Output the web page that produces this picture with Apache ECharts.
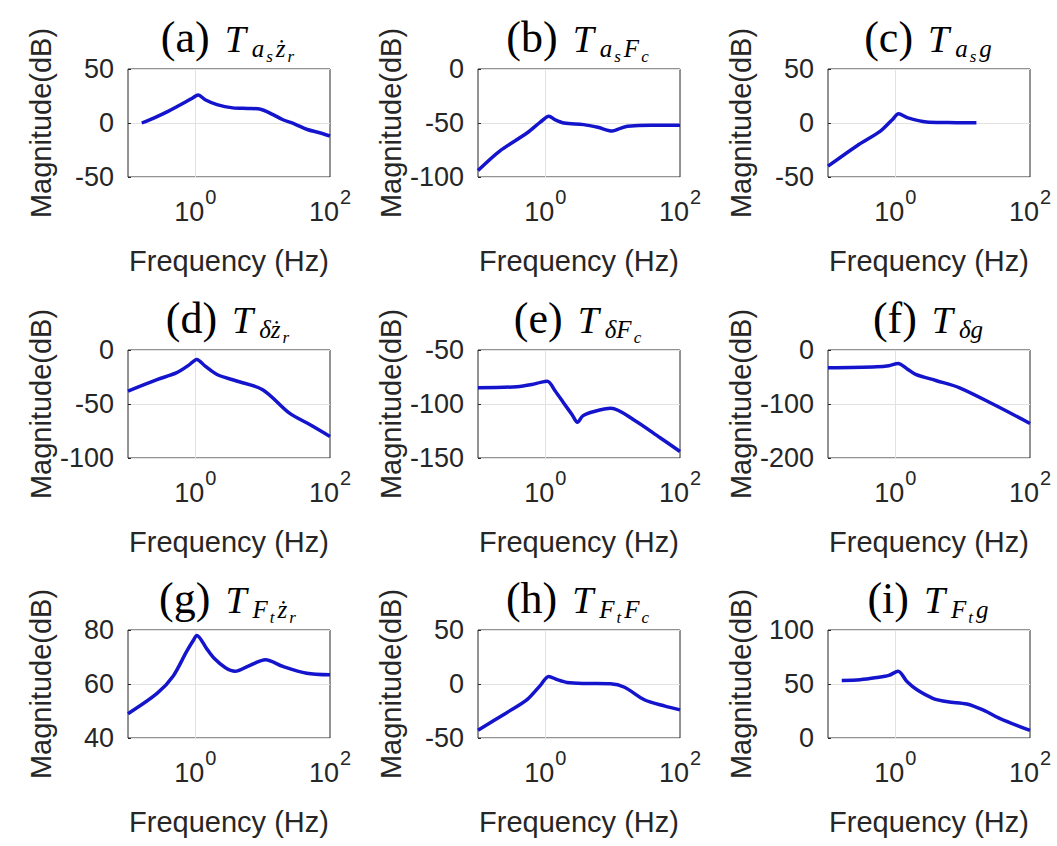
<!DOCTYPE html>
<html>
<head>
<meta charset="utf-8">
<script src="https://cdn.jsdelivr.net/npm/echarts@6/dist/echarts.min.js"></script>
<style>
html,body{margin:0;padding:0;background:#fff;}
#chart{width:1057px;height:846px;}
</style>
</head>
<body>
<div id="chart"></div>
<script>
// ---- data (frequency in Hz, magnitude in dB) ----
const freqA = [0.16, 0.25, 0.4, 0.65, 0.9, 1.1, 1.4, 2.1, 3.6, 6, 9, 14, 20, 30, 46, 70, 100];
const magA  = [0, 5, 11, 18, 23, 26, 21.5, 17, 14, 13.5, 13, 8, 3, -1, -6, -9, -12];

const freqB = [0.1, 0.21, 0.54, 0.85, 1.13, 1.4, 1.9, 3.7, 6, 9.8, 13, 16.6, 37, 100];
const magB  = [-94, -76, -59, -49, -43.7, -47, -50, -51.5, -54, -57.5, -55, -53, -52, -52];

const freqC = [0.1, 0.27, 0.6, 0.9, 1.12, 1.5, 2.9, 6, 10, 16];
const magC  = [-40, -21, -7.5, 3, 8.5, 5, 1, 0.5, 0.3, 0.3];

const freqD = [0.1, 0.27, 0.53, 0.8, 1.05, 1.4, 2.1, 4, 10, 25, 50, 100];
const magD  = [-38, -27.4, -21, -14, -8.7, -15, -22.7, -28.5, -36.7, -58.5, -69, -80];

const freqE = [0.1, 0.38, 0.63, 0.85, 1.07, 1.4, 1.87, 2.5, 3.0, 3.6, 5.3, 9.4, 21, 50, 100];
const magE  = [-85, -84, -82, -80, -79, -88, -99, -110, -117, -111, -107, -104, -115, -131, -144];

const freqF = [0.1, 0.53, 0.8, 1.1, 1.5, 2.0, 4, 9, 29, 100];
const magF  = [-33, -31, -29, -25, -35, -45, -56.5, -70, -101, -136];

const freqG = [0.1, 0.27, 0.47, 0.74, 0.95, 1.05, 1.48, 1.9, 2.8, 3.9, 6, 11, 20, 45, 100];
const magG  = [49, 56.5, 63, 72, 76.5, 78, 73, 69.5, 66, 64.7, 66.5, 69, 66.5, 64, 63.4];

const freqH = [0.1, 0.26, 0.53, 0.85, 1.12, 1.5, 2.1, 4, 9.3, 15, 30, 60, 100];
const magH  = [-42.8, -27, -14.8, -1, 7, 4, 1.4, 0.5, 0.2, -3, -14.8, -20.5, -24];

const freqI = [0.16, 0.3, 0.53, 0.8, 1.1, 1.5, 2.1, 3.6, 6, 11.5, 20, 36, 100];
const magI  = [53.3, 54, 56, 58, 61.8, 52, 44.6, 36.8, 33.5, 31.5, 26, 18, 7];

const yMins      = [-50, -100, -50, -100, -150, -200, 40, -50, 0];
const yMaxs      = [50, 0, 50, 0, -50, 0, 80, 50, 100];
const yIntervals = [50, 50, 50, 50, 50, 100, 20, 50, 50];

const panelLetters = ['(a)', '(b)', '(c)', '(d)', '(e)', '(f)', '(g)', '(h)', '(i)'];
// subscript parts: [main subscript, sub-subscript] pairs
const panelSubs = [
  [['a', 's'], ['ż', 'r']],
  [['a', 's'], ['F', 'c']],
  [['a', 's'], ['g', '']],
  [['δż', 'r']],
  [['δF', 'c']],
  [['δg', '']],
  [['F', 't'], ['ż', 'r']],
  [['F', 't'], ['F', 'c']],
  [['F', 't'], ['g', '']]
];

const xTickLabels = {0: '{b|10}{s|0}', 2: '{b|10}{s|2}'};
const xName = 'Frequency (Hz)';
const yName = 'Magnitude(dB)';

const freqs = [freqA, freqB, freqC, freqD, freqE, freqF, freqG, freqH, freqI];
const mags  = [magA, magB, magC, magD, magE, magF, magG, magH, magI];

// ---- layout ----
const colLefts = [128, 478, 828];
const rowTops  = [69, 350, 630];
const gW = 202, gH = 108;
const sansFont = '"Liberation Sans", Arial, Helvetica, sans-serif';
const serifFont = '"Liberation Serif", "Times New Roman", serif';
const axisColor = '#262626';
const gridColor = '#e2e2e2';
const lineColor = '#1414cc';

const titleRich = {
  p:  {fontFamily: serifFont, fontSize: 44, lineHeight: 44, padding: [0, 15, 7, 0], verticalAlign: 'bottom', fill: '#000', color: '#000'},
  T:  {fontFamily: serifFont, fontStyle: 'italic', fontSize: 38, lineHeight: 38, padding: [0, 6, 8, 0], verticalAlign: 'bottom', fill: '#000', color: '#000'},
  s1: {fontFamily: serifFont, fontStyle: 'italic', fontSize: 25, lineHeight: 25, padding: [0, 2, 5, 0], verticalAlign: 'bottom', fill: '#000', color: '#000'},
  s2: {fontFamily: serifFont, fontStyle: 'italic', fontSize: 17, lineHeight: 17, padding: [0, 3, 1, 0], verticalAlign: 'bottom', fill: '#000', color: '#000'}
};

const grids = [], xAxes = [], yAxes = [], series = [], graphics = [];
for (let i = 0; i < 9; i++) {
  const r = Math.floor(i / 3), c = i % 3;
  const left = colLefts[c], top = rowTops[r];
  grids.push({left: left, top: top, width: gW, height: gH, show: true,
    borderColor: axisColor, borderWidth: 1, backgroundColor: 'transparent', containLabel: false});
  xAxes.push({
    type: 'log', logBase: 10, gridIndex: i, min: 0.1, max: 100,
    axisLine: {show: false}, axisTick: {show: false}, splitLine: {show: false},
    axisLabel: {
      showMinLabel: true, showMaxLabel: true, margin: 21, color: axisColor,
      formatter: function (v) {
        const e = Math.round(Math.log10(v));
        return xTickLabels[e] || '';
      },
      rich: {
        b: {fontFamily: sansFont, fontSize: 27, lineHeight: 27, verticalAlign: 'bottom', color: axisColor},
        s: {fontFamily: sansFont, fontSize: 20, lineHeight: 20, padding: [0, 0, 18, 1], verticalAlign: 'bottom', color: axisColor}
      }
    },
    name: xName, nameLocation: 'middle', nameGap: 69,
    nameTextStyle: {fontFamily: sansFont, fontSize: 29, color: axisColor}
  });
  yAxes.push({
    type: 'value', gridIndex: i, min: yMins[i], max: yMaxs[i], interval: yIntervals[i],
    axisLine: {show: false},
    axisTick: {show: true, inside: true, length: 3, lineStyle: {color: axisColor}},
    splitLine: {show: true, lineStyle: {color: gridColor, width: 1}},
    axisLabel: {fontFamily: sansFont, fontSize: 27, margin: 14, color: axisColor},
    name: yName, nameLocation: 'middle', nameGap: 73,
    nameTextStyle: {fontFamily: sansFont, fontSize: 29, color: axisColor}
  });
  series.push({
    type: 'line', xAxisIndex: i, yAxisIndex: i,
    data: freqs[i].map((f, k) => [f, mags[i][k]]),
    showSymbol: false, smooth: 0.3, clip: true,
    lineStyle: {color: lineColor, width: 3.5},
    itemStyle: {color: lineColor},
    markLine: {
      silent: true, symbol: 'none', z: 1,
      label: {show: false},
      lineStyle: {color: gridColor, width: 1, type: 'solid'},
      data: [{xAxis: 1}]
    }
  });
  let txt = '{p|' + panelLetters[i] + '}{T|T}';
  panelSubs[i].forEach(function (pair) {
    txt += '{s1|' + pair[0] + '}';
    if (pair[1]) txt += '{s2|' + pair[1] + '}';
  });
  graphics.push({
    type: 'text', x: left + gW / 2, y: top - 3,
    style: {text: txt, rich: titleRich, align: 'center', verticalAlign: 'bottom',
            textAlign: 'center', textVerticalAlign: 'bottom', fill: '#000'}
  });
}

const chart = echarts.init(document.getElementById('chart'), null, {renderer: 'svg'});
chart.setOption({
  backgroundColor: '#ffffff',
  animation: false,
  grid: grids,
  xAxis: xAxes,
  yAxis: yAxes,
  series: series,
  graphic: graphics
});
</script>
</body>
</html>
